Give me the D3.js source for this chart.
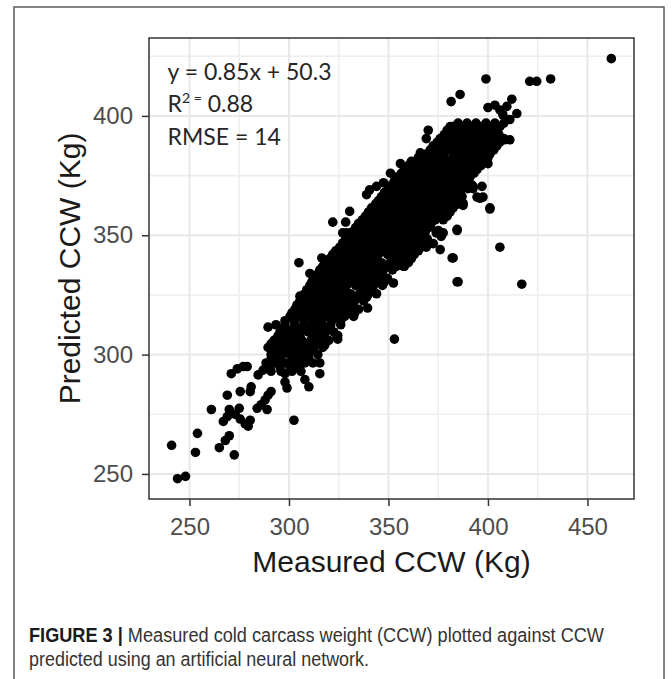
<!DOCTYPE html>
<html>
<head>
<meta charset="utf-8">
<script src="https://cdn.jsdelivr.net/npm/d3@7"></script>
<style>
  body { margin: 0; background: #fff; }
</style>
</head>
<body>
<div id="chart"></div>
<script>
const width = 672,
    height = 679;

// tick values
const xTicks = [250, 300, 350, 400, 450];
const yTicks = [250, 300, 350, 400];
const xMinor = [275, 325, 375, 425];
const yMinor = [275, 325, 375, 425];

// fit statistics printed in the panel
const statLines = ["y = 0.85x + 50.3", "R2 = 0.88", "RMSE = 14"];
const statX = 239;
const statY = [415, 401.5, 388];

const xTitle = "Measured CCW (Kg)";
const yTitle = "Predicted CCW (Kg)";
const captionLead = "FIGURE 3 |";
const captionLines = ["Measured cold carcass weight (CCW) plotted against CCW",
                      "predicted using an artificial neural network."];

// [measured, predicted] - scattered points around the cloud
const sparsePoints = [
  [241,262],[244,248],[248,249],[253,259],[254,267],[261,277],[265,261],[268,264],[270,266],[272.5,258],
  [267,272],[269,274],[270,277],[273,275],[275,277.5],[275.5,273],[278,271],[279.5,270],[280.5,272.5],[269,283],
  [275.5,284.5],[271,292],[274,294],[277,295],[279,295],[281,286.5],[280.5,284.5],[284,277.5],[286,279],[289,277],
  [288,281],[289.5,283],[291,284.5],[302.5,272.5],[284.5,291.5],[287,293.5],[290.5,296.5],[293,299],[291,304.5],[294.5,304.5],
  [297,309],[300.5,307.5],[304,310],[295.5,296.5],[298,292],[299,286],[298,288.5],[299.5,300.5],[302,298],[304,302],
  [307,304.5],[309,299],[311.5,303.5],[312,307.5],[315.5,296.5],[315.5,292],[308,289.5],[310,286.5],[318,304],[324.5,308],
  [324.5,306.5],[353,306.5],
  [289.5,311.5],[298,311.5],[305.5,307.5],[309,311.5],[312,309.5],[301.5,316],[304,320],[305.5,324.5],[309,325.5],[312,327],
  [315.5,317.5],[318,320],[320.5,323],[322.5,327],[325.5,330],[329,331.5],[315.5,314.5],[319,311.5],[321.5,314.5],[324,308],
  [339.5,319.5],[342.5,326.5],[305,338.5],[310.5,334],[316.5,340.5],[319,337],[325.5,338.5],[329,339.5],[332.5,341],[335.5,342.5],
  [326.5,343],[330,345],[332.5,346.5],[329,351],[327,351],[322,355.5],[328.5,355.5],[330.5,360],[339,367],[338,355],
  [342.5,352],[345.5,355],[349,358],[344,363.5],[349,367.5],[352.5,370.5],[356,372],[359,373],[345.5,345],[347.5,337],
  [342.5,334],[351,341],[352.5,330],[357.5,337],[358.5,341],[352.5,345],[356,348],[359,352],[356,356.5],[362.5,360.5],
  [367.5,362],[371,365],[376,367.5],[364,367.5],[364,349.5],[369,345],[372.5,346.5],[376,344],[377.5,351],[371,353.5],
  [375,352],[378.5,358],[384.5,352],[382.5,340.5],[385,330.5],[387,363.5],[386,367.5],[394.5,366],
  [381.5,406],[386,409],[370,394],[369,390.5],[381,395.5],[380,391],[387.5,395.5],[391,391],[366,384.5],[364,380],
  [356,380],[359,378.5],[362.5,377.5],[369,378.5],[372.5,381.5],[376,383],[379,378.5],[384.5,380],[387.5,377.5],[391,383],
  [351,376],[354,373],[340.5,369],[344,370.5],[347.5,372],
  [462,424],[399,415.5],[421,414.5],[424.5,414.5],[431.5,415.5],[400,403.5],[403.5,404.5],[406,402.5],[412,407],[409.5,404],
  [407.5,400.5],[411,398.5],[414.5,401],[382.5,395.5],[389,396],[390,392.5],[392.5,390],[394.5,387],[397.5,388.5],[401,385.5],
  [404.5,388.5],[408.5,390],[411,390],[396,383],[400,380],[397.5,384.5],[392.5,384.5],[386,387],[382.5,387],[386,381.5],
  [382.5,381.5],[379,378.5],[376,381.5],[389,373],[392.5,370.5],[397,370.5],[397.5,366],[396,365.5],[386,367.5],[387.5,363.5],
  [401,361.5],[379,358],[376,365],[382.5,370.5],
  [406,345],[417,329.5],[384.5,330.5],[382,340.5],[384.5,352.5],[387.5,362.5],[401,361],[392.5,369.5],[390,372.5],[374,351],
  [376.5,349.5]
];

// [measured, predicted] - the solid core of the cloud, read row by row
const densePoints = [
  [291,293],[296,293],[301.5,293],[306,293],
  [288.5,296.5],[293.5,296.5],[298.5,296.5],[303,296.5],[308,296.5],[312,296.5],
  [291,300],[296,300],[300.5,300],[305.5,300],[310,300],[314.5,300],
  [289.5,303],[294,303],[298.5,303],[303.5,303],[308,303],[312.5,303],[317,303],
  [292.5,306],[297,306],[301.5,306],[306.5,306],[311,306],[315.5,306],[320,306],
  [295.5,309.5],[300,309.5],[305,309.5],[309.5,309.5],[314,309.5],[318.5,309.5],[322.5,309.5],
  [293.5,312.5],[298,312.5],[303,312.5],[307.5,312.5],[312,312.5],[316.5,312.5],[321,312.5],[326,312.5],
  [300.5,316],[305,316],[309.5,316],[314.5,316],[319,316],[323.5,316],[328,316],[332.5,316],
  [303,319],[307.5,319],[312,319],[317,319],[321.5,319],[326,319],[330.5,319],[335,319],
  [305.5,322.5],[310,322.5],[314.5,322.5],[319.5,322.5],[324,322.5],[328.5,322.5],[333,322.5],[337.5,322.5],
  [308,325.5],[312.5,325.5],[317,325.5],[322,325.5],[326.5,325.5],[331,325.5],[335.5,325.5],[340,325.5],[344,325.5],
  [310.5,329],[315,329],[319.5,329],[324.5,329],[329,329],[333.5,329],[338,329],[342.5,329],[347,329],
  [313,332],[317.5,332],[322,332],[327,332],[331.5,332],[336,332],[340.5,332],[345,332],[349.5,332],
  [315.5,335.5],[320,335.5],[324.5,335.5],[329.5,335.5],[334,335.5],[338.5,335.5],[343,335.5],[347.5,335.5],[352,335.5],
  [319,338.5],[323.5,338.5],[328,338.5],[333,338.5],[337.5,338.5],[342,338.5],[346.5,338.5],[351,338.5],[355.5,338.5],[360,338.5],
  [322,342],[326.5,342],[331,342],[336,342],[340.5,342],[345,342],[349.5,342],[354,342],[358.5,342],[363,342],
  [325.5,345],[330,345],[334.5,345],[339.5,345],[344,345],[348.5,345],[353,345],[357.5,345],[362,345],[366.5,345],
  [328.5,348.5],[333,348.5],[337.5,348.5],[342.5,348.5],[347,348.5],[351.5,348.5],[356,348.5],[360.5,348.5],[365,348.5],[369.5,348.5],
  [332,351.5],[336.5,351.5],[341,351.5],[346,351.5],[350.5,351.5],[355,351.5],[359.5,351.5],[364,351.5],[368.5,351.5],
  [335,355],[339.5,355],[344,355],[349,355],[353.5,355],[358,355],[362.5,355],[367,355],[371.5,355],
  [338.5,358],[343,358],[347.5,358],[352.5,358],[357,358],[361.5,358],[366,358],[370.5,358],[375,358],[379.5,358],
  [341.5,361.5],[346,361.5],[350.5,361.5],[355.5,361.5],[360,361.5],[364.5,361.5],[369,361.5],[373.5,361.5],[378,361.5],[382.5,361.5],
  [345,364.5],[349.5,364.5],[354,364.5],[359,364.5],[363.5,364.5],[368,364.5],[372.5,364.5],[377,364.5],[381.5,364.5],[386,364.5],
  [348,368],[352.5,368],[357,368],[362,368],[366.5,368],[371,368],[375.5,368],[380,368],[384.5,368],
  [351.5,371],[356,371],[360.5,371],[365.5,371],[370,371],[374.5,371],[379,371],[383.5,371],[388,371],[392,371],
  [354.5,374.5],[359,374.5],[363.5,374.5],[368.5,374.5],[373,374.5],[377.5,374.5],[382,374.5],[386.5,374.5],[391,374.5],
  [358,377.5],[362.5,377.5],[367,377.5],[372,377.5],[376.5,377.5],[381,377.5],[385.5,377.5],[390,377.5],[394.5,377.5],
  [361.5,381],[366,381],[370.5,381],[375.5,381],[380,381],[384.5,381],[389,381],[393.5,381],[398,381],
  [369,384],[373.5,384],[378,384],[383,384],[387.5,384],[392,384],[396.5,384],[401,384],
  [372.5,387.5],[377,387.5],[381.5,387.5],[386.5,387.5],[391,387.5],[395.5,387.5],[400,387.5],[404.5,387.5],
  [376,390.5],[380.5,390.5],[385,390.5],[390,390.5],[394.5,390.5],[399,390.5],[403.5,390.5],[408,390.5],
  [379.5,394],[384,394],[388.5,394],[393.5,394],[398,394],[402.5,394],
  [385,397],[389.5,397],[394,397],[399,397],[403.5,397],[408,397]
];

// [measured, predicted] - points packed between the rows above
const corePoints = [
  [290.5,294.8],[295.5,294.8],[300.5,294.8],[305,294.8],
  [291,298.2],[296,298.2],[305.5,298.2],[310,298.2],
  [293,301.5],[297.5,301.5],[302.5,301.5],[307,301.5],[311.5,301.5],
  [291.5,304.5],[296,304.5],[300.5,304.5],[305,304.5],[310,304.5],[314.5,304.5],
  [294.5,307.8],[299,307.8],[303.5,307.8],[313,307.8],[317.5,307.8],
  [297.5,311],[302.5,311],[307,311],[311.5,311],[316,311],[320.5,311],
  [298,314.2],[302.5,314.2],[307.5,314.2],[312,314.2],[316.5,314.2],[321.5,314.2],[326,314.2],
  [301.5,317.5],[306,317.5],[310.5,317.5],[320,317.5],[324.5,317.5],[329,317.5],[333,317.5],
  [304,320.8],[308.5,320.8],[313.5,320.8],[318,320.8],[323,320.8],[327.5,320.8],[332,320.8],
  [306.5,324],[311,324],[316,324],[320.5,324],[325,324],[330,324],[334.5,324],[339,324],
  [309,327.2],[314,327.2],[318.5,327.2],[323,327.2],[328,327.2],[337,327.2],[341.5,327.2],
  [311.5,330.5],[316,330.5],[321,330.5],[325.5,330.5],[330,330.5],[335,330.5],[339.5,330.5],[344,330.5],[348,330.5],
  [314.5,333.8],[319,333.8],[323.5,333.8],[328,333.8],[333,333.8],[337.5,333.8],[342,333.8],[346.5,333.8],
  [317,337],[321.5,337],[326.5,337],[331,337],[335.5,337],[340.5,337],[345,337],[349.5,337],[354,337],[358,337],
  [320.5,340.2],[325,340.2],[329.5,340.2],[334.5,340.2],[339,340.2],[343.5,340.2],[352.5,340.2],[357,340.2],[361.5,340.2],
  [323.5,343.5],[328,343.5],[333,343.5],[337.5,343.5],[342,343.5],[347,343.5],[351.5,343.5],[356,343.5],[360.5,343.5],[365,343.5],
  [327,346.8],[331.5,346.8],[336,346.8],[341,346.8],[345.5,346.8],[350,346.8],[354.5,346.8],[359,346.8],[363.5,346.8],[368,346.8],
  [330,350],[334.5,350],[339.5,350],[344,350],[348.5,350],[353,350],[357.5,350],[362,350],[366.5,350],
  [333.5,353.2],[338,353.2],[342.5,353.2],[347.5,353.2],[352,353.2],[356.5,353.2],[361,353.2],[365.5,353.2],[370,353.2],
  [337,356.5],[341.5,356.5],[346,356.5],[351,356.5],[355.5,356.5],[360,356.5],[364.5,356.5],[369,356.5],[373.5,356.5],[377.5,356.5],
  [340,359.8],[344.5,359.8],[349,359.8],[354,359.8],[358.5,359.8],[363,359.8],[367.5,359.8],[372,359.8],[376.5,359.8],[381,359.8],
  [343.5,363],[348,363],[352.5,363],[357.5,363],[362,363],[366.5,363],[371,363],[375.5,363],[380,363],[384.5,363],
  [346.5,366.2],[351,366.2],[355.5,366.2],[360.5,366.2],[365,366.2],[369.5,366.2],[374,366.2],[378.5,366.2],[383,366.2],[387,366.2],
  [350,369.5],[354.5,369.5],[359,369.5],[364,369.5],[368.5,369.5],[373,369.5],[377.5,369.5],[382,369.5],[386.5,369.5],[390,369.5],
  [353,372.8],[357.5,372.8],[362,372.8],[367,372.8],[371.5,372.8],[376,372.8],[380.5,372.8],[385,372.8],[389.5,372.8],
  [356.5,376],[361,376],[365.5,376],[370.5,376],[375,376],[379.5,376],[384,376],[388.5,376],[393,376],
  [360,379.2],[364.5,379.2],[369,379.2],[374,379.2],[378.5,379.2],[383,379.2],[387.5,379.2],[392,379.2],[396.5,379.2],
  [365,382.5],[368.5,382.5],[373,382.5],[378,382.5],[382.5,382.5],[387,382.5],[391.5,382.5],[396,382.5],[400,382.5],
  [371,385.8],[375.5,385.8],[380,385.8],[385,385.8],[389.5,385.8],[394,385.8],[398.5,385.8],[403,385.8],
  [374.5,389],[379,389],[383.5,389],[388.5,389],[393,389],[397.5,389],[402,389],[406,389],
  [378,392.2],[382.5,392.2],[387,392.2],[392,392.2],[396.5,392.2],[401,392.2],[405.5,392.2],
  [383,395.5],[387.5,395.5],[392,395.5],[397,395.5],[401.5,395.5],[406,395.5]
];

const points = sparsePoints.concat(densePoints, corePoints);

const svg = d3.select("#chart")
    .append("svg")
    .attr("width", width)
    .attr("height", height)
    .style("font-family", "'Liberation Sans', Arial, sans-serif");

// outer figure frame (runs past the bottom of the picture)
svg.append("rect")
    .attr("x", 14)
    .attr("y", 7)
    .attr("width", 650)
    .attr("height", 700)
    .attr("fill", "none")
    .attr("stroke", "#5a5a5a")
    .attr("stroke-width", 1.5);

const panel = { left: 149, right: 634, top: 38, bottom: 499 };

let x = d3.scaleLinear()
    .domain([229.65, 473.4])
    .range([panel.left, panel.right]);

let y = d3.scaleLinear()
    .domain([239.5, 432.65])
    .range([panel.bottom, panel.top]);

const grid = svg.append("g");

grid.selectAll(".xminor")
  .data(xMinor)
  .join("line")
    .attr("x1", d => x(d)).attr("x2", d => x(d))
    .attr("y1", panel.top).attr("y2", panel.bottom)
    .attr("stroke", "#eeeeee")
    .attr("stroke-width", 1.6);

grid.selectAll(".yminor")
  .data(yMinor)
  .join("line")
    .attr("y1", d => y(d)).attr("y2", d => y(d))
    .attr("x1", panel.left).attr("x2", panel.right)
    .attr("stroke", "#eeeeee")
    .attr("stroke-width", 1.6);

grid.selectAll(".xmajor")
  .data(xTicks)
  .join("line")
    .attr("x1", d => x(d)).attr("x2", d => x(d))
    .attr("y1", panel.top).attr("y2", panel.bottom)
    .attr("stroke", "#e8e8e8")
    .attr("stroke-width", 2);

grid.selectAll(".ymajor")
  .data(yTicks)
  .join("line")
    .attr("y1", d => y(d)).attr("y2", d => y(d))
    .attr("x1", panel.left).attr("x2", panel.right)
    .attr("stroke", "#e8e8e8")
    .attr("stroke-width", 2);

// fit statistics
const stats = svg.append("g")
    .attr("font-family", "Lato, 'Open Sans', sans-serif")
    .attr("font-size", 23)
    .attr("fill", "#262626");

stats.append("text")
    .attr("x", x(statX))
    .attr("y", y(statY[0]))
    .text(statLines[0]);

const r2 = stats.append("text")
    .attr("x", x(statX))
    .attr("y", y(statY[1]));
r2.append("tspan").text("R");
r2.append("tspan")
    .attr("font-size", 14)
    .attr("dy", -9)
    .text("2 =");
r2.append("tspan")
    .attr("dy", 9)
    .text(" 0.88");

stats.append("text")
    .attr("x", x(statX))
    .attr("y", y(statY[2]))
    .text(statLines[2]);

// points
svg.append("g")
  .selectAll("circle")
  .data(points)
  .join("circle")
    .attr("cx", d => x(d[0]))
    .attr("cy", d => y(d[1]))
    .attr("r", 4.8)
    .attr("fill", "#000");

// panel border
svg.append("rect")
    .attr("x", panel.left)
    .attr("y", panel.top)
    .attr("width", panel.right - panel.left)
    .attr("height", panel.bottom - panel.top)
    .attr("fill", "none")
    .attr("stroke", "#333")
    .attr("stroke-width", 1.5);

const yAxis = svg.append("g")
    .attr("transform", `translate(${panel.left},0)`)
    .call(d3.axisLeft(y).tickValues(yTicks).tickSize(7).tickPadding(9));

const xAxis = svg.append("g")
    .attr("transform", `translate(0,${panel.bottom})`)
    .call(d3.axisBottom(x).tickValues(xTicks).tickSize(7).tickPadding(12));

for (const ax of [xAxis, yAxis]) {
  ax.select(".domain").remove();
  ax.selectAll(".tick line").attr("stroke", "#333").attr("stroke-width", 1.5);
  ax.selectAll(".tick text")
    .attr("fill", "#4d4d4d")
    .attr("font-size", 24)
    .attr("font-family", "'Liberation Sans', Arial, sans-serif");
}

svg.append("text")
    .attr("x", (panel.left + panel.right) / 2)
    .attr("y", 572)
    .attr("text-anchor", "middle")
    .attr("font-size", 30)
    .attr("fill", "#1a1a1a")
    .text(xTitle);

svg.append("text")
    .attr("transform", `translate(80,${(panel.top + panel.bottom) / 2}) rotate(-90)`)
    .attr("text-anchor", "middle")
    .attr("font-size", 30)
    .attr("fill", "#1a1a1a")
    .text(yTitle);

// caption under the chart
const cap1 = svg.append("text")
    .attr("x", 29)
    .attr("y", 642)
    .attr("font-size", 20)
    .attr("fill", "#333")
    .attr("textLength", 575)
    .attr("lengthAdjust", "spacingAndGlyphs");
cap1.append("tspan")
    .attr("font-weight", "bold")
    .attr("fill", "#1a1a1a")
    .text(captionLead);
cap1.append("tspan").text(" " + captionLines[0]);

svg.append("text")
    .attr("x", 29)
    .attr("y", 666)
    .attr("font-size", 20)
    .attr("fill", "#333")
    .attr("textLength", 340)
    .attr("lengthAdjust", "spacingAndGlyphs")
    .text(captionLines[1]);
</script>
</body>
</html>
